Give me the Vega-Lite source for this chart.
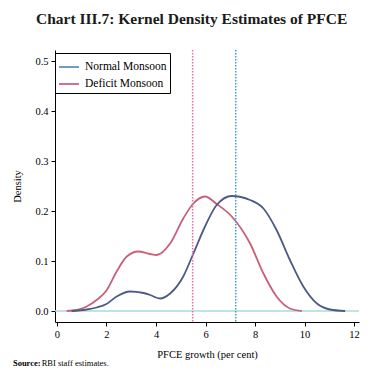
{
  "$schema": "https://vega.github.io/schema/vega-lite/v6.json",
  "width": 304,
  "height": 272,
  "autosize": {"type": "none"},
  "padding": {"left": 55, "top": 50, "right": 24, "bottom": 62},
  "background": "white",
  "title": {
    "text": "Chart III.7: Kernel Density Estimates of PFCE",
    "font": "Liberation Serif",
    "fontSize": 15.5,
    "fontWeight": "bold",
    "color": "#1a1a1a",
    "anchor": "start",
    "frame": "group",
    "dx": -19,
    "offset": 22
  },
  "config": {
    "view": {"stroke": null},
    "axis": {
      "domainColor": "black",
      "tickColor": "black",
      "labelColor": "black",
      "titleColor": "black",
      "labelFont": "Liberation Serif",
      "titleFont": "Liberation Serif",
      "labelFontSize": 10.5,
      "titleFontSize": 10.5,
      "titleFontWeight": "normal",
      "grid": false,
      "tickSize": 4
    }
  },
  "datasets": {
    "curves": [
      {"x": 0.39, "d": 0, "series": "Deficit Monsoon"},
      {"x": 0.8, "d": 0.002, "series": "Deficit Monsoon"},
      {"x": 1.2, "d": 0.009, "series": "Deficit Monsoon"},
      {"x": 1.6, "d": 0.022, "series": "Deficit Monsoon"},
      {"x": 2.0, "d": 0.041, "series": "Deficit Monsoon"},
      {"x": 2.41, "d": 0.079, "series": "Deficit Monsoon"},
      {"x": 2.82, "d": 0.109, "series": "Deficit Monsoon"},
      {"x": 3.29, "d": 0.119, "series": "Deficit Monsoon"},
      {"x": 3.76, "d": 0.114, "series": "Deficit Monsoon"},
      {"x": 4.03, "d": 0.112, "series": "Deficit Monsoon"},
      {"x": 4.57, "d": 0.135, "series": "Deficit Monsoon"},
      {"x": 5.1, "d": 0.185, "series": "Deficit Monsoon"},
      {"x": 5.51, "d": 0.215, "series": "Deficit Monsoon"},
      {"x": 5.98, "d": 0.229, "series": "Deficit Monsoon"},
      {"x": 6.45, "d": 0.214, "series": "Deficit Monsoon"},
      {"x": 7.06, "d": 0.189, "series": "Deficit Monsoon"},
      {"x": 7.8, "d": 0.135, "series": "Deficit Monsoon"},
      {"x": 8.34, "d": 0.075, "series": "Deficit Monsoon"},
      {"x": 8.87, "d": 0.029, "series": "Deficit Monsoon"},
      {"x": 9.41, "d": 0.005, "series": "Deficit Monsoon"},
      {"x": 9.89, "d": 0, "series": "Deficit Monsoon"},
      {"x": 0.59, "d": 0, "series": "Normal Monsoon"},
      {"x": 1.2, "d": 0.003, "series": "Normal Monsoon"},
      {"x": 1.6, "d": 0.007, "series": "Normal Monsoon"},
      {"x": 2.0, "d": 0.014, "series": "Normal Monsoon"},
      {"x": 2.41, "d": 0.029, "series": "Normal Monsoon"},
      {"x": 2.95, "d": 0.039, "series": "Normal Monsoon"},
      {"x": 3.5, "d": 0.036, "series": "Normal Monsoon"},
      {"x": 3.76, "d": 0.032, "series": "Normal Monsoon"},
      {"x": 4.16, "d": 0.025, "series": "Normal Monsoon"},
      {"x": 4.57, "d": 0.035, "series": "Normal Monsoon"},
      {"x": 5.1, "d": 0.069, "series": "Normal Monsoon"},
      {"x": 5.51, "d": 0.115, "series": "Normal Monsoon"},
      {"x": 5.98, "d": 0.169, "series": "Normal Monsoon"},
      {"x": 6.45, "d": 0.212, "series": "Normal Monsoon"},
      {"x": 7.06, "d": 0.23, "series": "Normal Monsoon"},
      {"x": 7.8, "d": 0.222, "series": "Normal Monsoon"},
      {"x": 8.34, "d": 0.205, "series": "Normal Monsoon"},
      {"x": 8.87, "d": 0.162, "series": "Normal Monsoon"},
      {"x": 9.41, "d": 0.102, "series": "Normal Monsoon"},
      {"x": 9.95, "d": 0.049, "series": "Normal Monsoon"},
      {"x": 10.5, "d": 0.015, "series": "Normal Monsoon"},
      {"x": 11.03, "d": 0.003, "series": "Normal Monsoon"},
      {"x": 11.64, "d": 0, "series": "Normal Monsoon"}
    ]
  },
  "layer": [
    {
      "data": {"values": [{"y": 0}]},
      "mark": {"type": "rule", "color": "#a9dcd8", "strokeWidth": 1.5},
      "encoding": {
        "y": {"field": "y", "type": "quantitative", "scale": {"domain": [-0.022, 0.522], "nice": false, "zero": false}}
      }
    },
    {
      "data": {"name": "curves"},
      "mark": {"type": "line", "interpolate": "monotone", "strokeWidth": 1.2, "opacity": 0},
      "encoding": {
        "x": {"field": "x", "type": "quantitative"},
        "y": {"field": "d", "type": "quantitative"},
        "stroke": {
          "field": "series", "type": "nominal",
          "scale": {"domain": ["Normal Monsoon", "Deficit Monsoon"], "range": ["#0f5f85", "#b8104f"]},
          "legend": {
            "title": null,
            "orient": "none",
            "legendX": 0,
            "legendY": 3,
            "strokeColor": "black",
            "padding": 3,
            "labelFont": "Liberation Serif",
            "labelFontSize": 11.5,
            "labelColor": "black",
            "symbolType": "stroke",
            "symbolSize": 400,
            "symbolStrokeWidth": 1.2,
            "symbolOpacity": 1,
            "rowPadding": 0,
            "labelOffset": 5
          }
        }
      }
    },
    {
      "data": {"name": "curves"},
      "mark": {"type": "line", "interpolate": "monotone", "strokeWidth": 1.8},
      "encoding": {
        "x": {
          "field": "x", "type": "quantitative",
          "scale": {"domain": [-0.08, 12.2], "nice": false, "zero": false},
          "axis": {"values": [0, 2, 4, 6, 8, 10, 12], "title": "PFCE growth (per cent)", "titlePadding": 10, "labelPadding": 3}
        },
        "y": {
          "field": "d", "type": "quantitative",
          "scale": {"domain": [-0.022, 0.522], "nice": false, "zero": false},
          "axis": {"values": [0, 0.1, 0.2, 0.3, 0.4, 0.5], "format": ".1f", "title": "Density", "titlePadding": 12, "labelPadding": 3}
        },
        "detail": {"field": "series"},
        "color": {
          "field": "series", "type": "nominal",
          "scale": {"domain": ["Normal Monsoon", "Deficit Monsoon"], "range": ["#4d5a86", "#c8607a"]},
          "legend": null
        }
      }
    },
    {
      "data": {"values": [{"x": 5.48}]},
      "mark": {"type": "rule", "color": "#ee6b9b", "strokeWidth": 1.5, "strokeDash": [1.5, 1.5]},
      "encoding": {"x": {"field": "x", "type": "quantitative"}}
    },
    {
      "data": {"values": [{"x": 7.22}]},
      "mark": {"type": "rule", "color": "#3a9fcc", "strokeWidth": 1.5, "strokeDash": [1.5, 1.5]},
      "encoding": {"x": {"field": "x", "type": "quantitative"}}
    },
    {
      "data": {"values": [{"t": "Source:"}]},
      "mark": {"type": "text", "align": "left", "baseline": "alphabetic", "font": "Liberation Serif", "fontSize": 8.5, "fontWeight": "bold", "color": "black"},
      "encoding": {
        "text": {"field": "t"},
        "x": {"datum": -1.78},
        "y": {"datum": -0.11}
      }
    },
    {
      "data": {"values": [{"t": "RBI staff estimates."}]},
      "mark": {"type": "text", "align": "left", "baseline": "alphabetic", "font": "Liberation Serif", "fontSize": 8.5, "color": "black"},
      "encoding": {
        "text": {"field": "t"},
        "x": {"datum": -0.62},
        "y": {"datum": -0.11}
      }
    }
  ]
}
